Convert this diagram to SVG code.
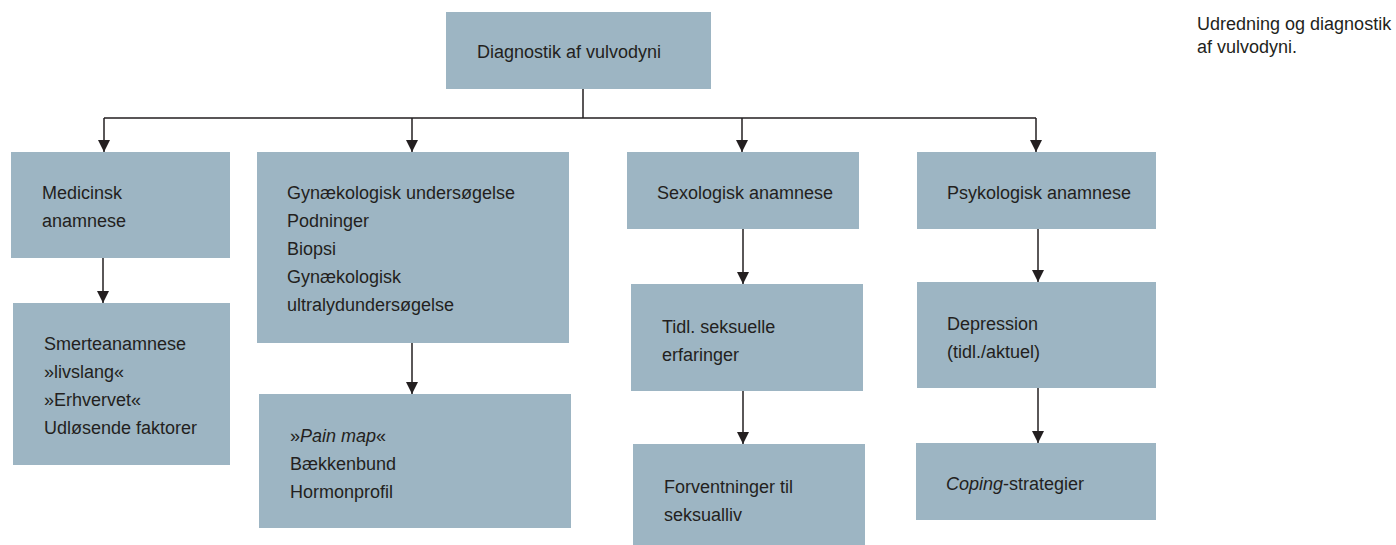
<svg xmlns="http://www.w3.org/2000/svg" width="1396" height="545" viewBox="0 0 1396 545">
<defs>
<style>
.box{fill:#9db5c3}
.t{font-family:"Liberation Sans",Arial,sans-serif;font-size:18px;fill:#231f20}
.c{stroke:#231f20;stroke-width:1.5;fill:none}
</style>
<marker id="ah" markerWidth="12" markerHeight="15" refX="12" refY="7.5" orient="auto" markerUnits="userSpaceOnUse" viewBox="0 0 12 15">
<path d="M0,1.5 L12,7.5 L0,13.5 Z" fill="#231f20"/>
</marker>
</defs>
<rect width="1396" height="545" fill="#fff"/>
<g id="connectors">
<path class="c" d="M583,89 V118 M104,118 H1036"/>
<path class="c" d="M104,118 V152" marker-end="url(#ah)"/>
<path class="c" d="M412,118 V152" marker-end="url(#ah)"/>
<path class="c" d="M742,118 V152" marker-end="url(#ah)"/>
<path class="c" d="M1036,118 V152" marker-end="url(#ah)"/>
<path class="c" d="M103,258 V303" marker-end="url(#ah)"/>
<path class="c" d="M412,343 V394" marker-end="url(#ah)"/>
<path class="c" d="M743,229 V284" marker-end="url(#ah)"/>
<path class="c" d="M743,391 V444" marker-end="url(#ah)"/>
<path class="c" d="M1038,229 V282" marker-end="url(#ah)"/>
<path class="c" d="M1038,388 V443" marker-end="url(#ah)"/>
</g>
<g id="n-root"><rect class="box" x="446" y="12" width="265" height="77"/><text class="t" x="477" y="58">Diagnostik af vulvodyni</text></g>
<g id="n-med"><rect class="box" x="11" y="152" width="219" height="106"/><text class="t" x="42" y="199">Medicinsk</text><text class="t" x="42" y="227">anamnese</text></g>
<g id="n-smerte"><rect class="box" x="13" y="303" width="217" height="162"/><text class="t" x="44" y="350">Smerteanamnese</text><text class="t" x="44" y="378">»livslang«</text><text class="t" x="44" y="406">»Erhvervet«</text><text class="t" x="44" y="434">Udløsende faktorer</text></g>
<g id="n-gyn"><rect class="box" x="257" y="152" width="312" height="191"/><text class="t" x="287" y="199">Gynækologisk undersøgelse</text><text class="t" x="287" y="227">Podninger</text><text class="t" x="287" y="255">Biopsi</text><text class="t" x="287" y="283">Gynækologisk</text><text class="t" x="287" y="311">ultralydundersøgelse</text></g>
<g id="n-pain"><rect class="box" x="259" y="394" width="312" height="134"/><text class="t" x="290" y="442">»<tspan font-style="italic">Pain map</tspan>«</text><text class="t" x="290" y="470">Bækkenbund</text><text class="t" x="290" y="498">Hormonprofil</text></g>
<g id="n-sex"><rect class="box" x="627" y="152" width="232" height="77"/><text class="t" x="657" y="199">Sexologisk anamnese</text></g>
<g id="n-tidl"><rect class="box" x="631" y="284" width="232" height="107"/><text class="t" x="662" y="333">Tidl. seksuelle</text><text class="t" x="662" y="361">erfaringer</text></g>
<g id="n-forv"><rect class="box" x="633" y="444" width="232" height="101"/><text class="t" x="664" y="493">Forventninger til</text><text class="t" x="664" y="521">seksualliv</text></g>
<g id="n-psyk"><rect class="box" x="917" y="152" width="239" height="77"/><text class="t" x="947" y="199">Psykologisk anamnese</text></g>
<g id="n-dep"><rect class="box" x="917" y="282" width="239" height="106"/><text class="t" x="947" y="330">Depression</text><text class="t" x="947" y="358">(tidl./aktuel)</text></g>
<g id="n-coping"><rect class="box" x="916" y="443" width="240" height="77"/><text class="t" x="946" y="490"><tspan font-style="italic">Coping</tspan>-strategier</text></g>
<g id="caption"><text class="t" x="1197" y="30" font-size="16">Udredning og diagnostik</text><text class="t" x="1197" y="53" font-size="16">af vulvodyni.</text></g>
</svg>
